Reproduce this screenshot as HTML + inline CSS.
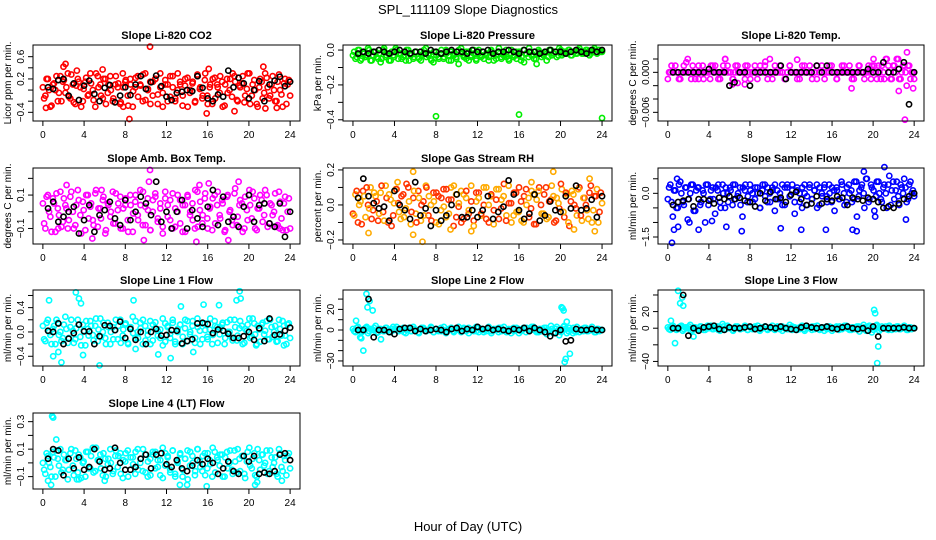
<!DOCTYPE html>
<html><head><meta charset="utf-8">
<style>
html,body{margin:0;padding:0;background:#fff;}
svg{display:block;font-family:"Liberation Sans",sans-serif;}
</style></head>
<body>
<svg id="chart" width="936" height="540" viewBox="0 0 936 540" xmlns="http://www.w3.org/2000/svg">
<text x="468" y="14" text-anchor="middle" font-size="13">SPL_111109  Slope Diagnostics</text>
<text x="468" y="531" text-anchor="middle" font-size="13">Hour of Day (UTC)</text>
<g id="panels"></g>
</svg>
<script>
// ---- data ----
const co2Values=[0.05,-0.1,0.2,-0.3,0.1,0.0,-0.2,0.25,0.15,-0.05,0.3,-0.15,0.1,-0.25,0.2,0.05,-0.2,0.15,-0.1,0.3,0.0,-0.3,0.25,0.1,-0.15,0.2,-0.05,0.25,-0.2,0.1,0.05,-0.25,0.3,0.15,-0.1,0.2,-0.3,0.05,0.25,0.1,-0.2,0.3,0.0,0.15,-0.1,0.2,-0.25,0.3,-0.05,0.1,-0.2,0.25,0.05,-0.15,0.3,0.1,-0.1,0.2,-0.3,0.0,0.15,-0.2,0.25,0.05,-0.1,0.3,-0.25,0.1,0.2,-0.15,0.05,0.25,-0.3,0.1,-0.05,0.2,0.3,0.15,-0.2,0.05,0.25,-0.1,0.3,-0.25,0.1,0.0,-0.3,0.2,-0.15,0.3,0.05,-0.1,0.25,-0.2,0.15,0.0,-0.3,0.2,0.1,-0.1];
const co2Values2=[-0.15,0.2,0.0,-0.28,0.12,0.25,-0.05,-0.2,0.18,0.05,-0.12,0.28,-0.22,0.08,0.15,-0.3,0.02,0.22,-0.08,0.12,-0.18,0.3,0.05,-0.1,0.2,-0.25,0.1,0.0,-0.15,0.25,0.12,-0.22,0.05,0.18,-0.28,0.1,-0.02,0.22,-0.12,0.08,0.28,-0.18,0.02,-0.25,0.15,0.2,-0.08,0.05,-0.3,0.18,0.1,-0.12,0.25,-0.2,0.0,0.15,-0.28,0.08,0.22,-0.05,0.12,-0.22,0.28,0.02,-0.15,0.18,-0.1,0.05,-0.25,0.22,0.1,-0.05,0.15,-0.28,0.2,0.0,-0.12,0.25,-0.18,0.08,0.12,-0.22,0.02,0.3,-0.1,0.18,-0.25,0.05,0.15,-0.05,0.22,-0.15,0.1,0.0,-0.2,0.28,-0.08,0.12,-0.25,0.18];
const co2ExtraHours=[0.3,2.0,2.2,3.3,10.4,8.4,15.9,16.1,18.6,21.4,21.6,22.7,5.8,7.8];
const co2ExtraValues=[-0.32,0.42,0.47,0.35,0.78,-0.52,-0.42,0.38,-0.38,0.42,-0.33,-0.32,0.37,-0.3];
const co2Means=[0.05,0.02,0.18,0.2,-0.1,0.12,-0.18,0.08,0.17,-0.07,-0.2,0.04,0.09,-0.22,-0.1,0.05,-0.09,0.1,0.25,0.02,0.14,0.26,0.07,-0.12,-0.18,-0.05,-0.03,0.0,-0.02,0.25,0.04,-0.15,-0.2,-0.08,-0.12,0.35,0.05,0.22,0.12,-0.15,0.0,0.16,-0.2,0.1,0.17,0.24,0.07,0.15];

const presValues=[-0.03,-0.05,0.0,-0.06,-0.02,-0.04,0.01,-0.06,-0.03,-0.01,-0.05,-0.07,0.0,-0.04,-0.02,-0.06,-0.03,0.01,-0.05,-0.02,-0.04,-0.06,0.0,-0.03,-0.05,-0.01,-0.04,-0.06,-0.02,0.01,-0.03,-0.05,-0.07,-0.01,-0.04,-0.02,-0.05,0.0,-0.03,-0.06,-0.02,-0.04,-0.08,0.01,-0.03,-0.05,-0.01,-0.04,-0.02,-0.06,0.0,-0.03,-0.05,-0.02,-0.04,-0.01,-0.06,-0.03,0.01,-0.05,-0.02,-0.04,-0.06,0.0,-0.03,-0.05,-0.01,-0.04,-0.07,-0.02,0.01,-0.03,-0.05,-0.08,-0.01,-0.04,-0.02,-0.06,0.0,-0.03,-0.02,-0.04,0.01,-0.03,-0.01,-0.02,0.0,-0.03,-0.01,-0.02,0.01,-0.02,-0.01,0.0,-0.03,-0.01,0.01,-0.02,0.0,-0.01];
const presValues2=[-0.01,-0.04,0.0,-0.05,-0.02,-0.03,0.0,-0.06,-0.01,-0.04,-0.02,-0.05,0.01,-0.03,-0.06,-0.01,-0.04,0.0,-0.02,-0.05,-0.03,0.0,-0.06,-0.02,-0.04,-0.01,-0.05,-0.03,0.0,-0.04,-0.02,-0.06,-0.01,-0.03,-0.05,0.0,-0.04,-0.02,-0.06,-0.01,-0.03,-0.05,0.0,-0.02,-0.04,-0.01,-0.06,-0.03,0.0,-0.05,-0.02,-0.04,-0.01,-0.03,-0.06,0.0,-0.02,-0.05,-0.01,-0.04,-0.03,0.0,-0.05,-0.02,-0.04,-0.01,-0.03,-0.06,0.0,-0.02,-0.04,-0.01,-0.03,-0.05,0.0,-0.02,-0.03,-0.01,-0.04,0.0,-0.02,-0.01,-0.03,0.0,-0.02,-0.01,0.0,-0.03,-0.01,-0.02,0.0,-0.01,-0.02,0.0,-0.01,-0.02,0.0,-0.01,0.0,-0.01];
const presExtraHours=[8,16,24];
const presExtraValues=[-0.38,-0.37,-0.39];
const presMeans=[-0.02,-0.01,-0.02,-0.01,0.0,-0.01,-0.02,-0.01,0.0,-0.01,-0.02,-0.01,-0.01,-0.02,0.0,-0.01,-0.02,-0.01,0.0,-0.01,-0.01,-0.02,0.0,-0.01,-0.01,0.0,-0.02,-0.01,-0.01,0.0,-0.01,-0.02,0.0,-0.01,-0.01,-0.02,-0.01,0.0,-0.01,-0.01,-0.02,-0.01,0.0,-0.01,-0.02,0.0,-0.01,0.0];

const tempValues=[-0.001,0,0,0.001,0,-0.001,0,0,0.002,0,0.001,-0.001,0,0,0.001,0,0,-0.001,0.001,0.001,0,-0.001,0,0.002,0.001,0,-0.001,0,0.001,0,0,-0.001,0.001,0,0,0.001,-0.001,0,0,0.001,0,0.002,-0.001,0,0,0.001,0,-0.001,0,0.001,0,0,-0.001,0,0.001,0,0,0.001,-0.001,0,0.001,0,0,-0.001,0,0.001,0,0,-0.001,0,0.001,0,0,0.001,-0.001,0,0,0.001,0,-0.001,0,0,0.001,0.001,-0.001,0,0.001,-0.001,0.002,0,-0.001,0.001,0.002,-0.001,0,0.001,-0.002,0.001,0,-0.001];
const tempValues2=[0,0.001,0,0,-0.001,0,0.001,0,0,-0.001,0,0,0.001,0,-0.001,0,0,0.001,0,0,-0.001,0,0.001,0,0,0,-0.001,0.001,0,0,0,0.001,0,-0.001,0,0,0,0.001,0,0,-0.001,0,0,0.001,0,0,0,-0.001,0,0.001,0,0,0,-0.001,0,0.001,0,0,0,0,-0.001,0,0.001,0,0,0,0.001,0,-0.001,0,0,0.001,0,0,0,-0.001,0,0.001,0,0,0,0.001,-0.001,0.002,0,0.001,-0.001,0,0.002,0.001,-0.001,0.001,0,0.002,-0.001,0.001,0,0.001,-0.001,0];
const tempExtraHours=[1.8,5.6,6.3,6.8,7.5,12.6,17.9,22.5,23.1,23.3,23.9,9.5,3.0];
const tempExtraValues=[0.0015,0.002,-0.0018,-0.0016,-0.0018,0.0019,-0.0024,-0.0028,-0.0071,0.003,-0.0024,0.0016,-0.001];
const tempMeans=[0,0,0,0,0,0,0,0.0005,0,0,0,-0.002,-0.0015,0,0,-0.002,0,0,0,0,0,0.001,-0.001,0,0,0,0,0,0.001,0,0.001,0,0,0,0,0,0,0,0.0005,0,0,0.0015,0,0,0.0005,0.0015,-0.0048,0];

const ambValues=[0.05,-0.1,0.1,-0.03,0.08,-0.12,0.02,0.12,-0.06,0.04,-0.1,0.09,0.0,-0.08,0.13,-0.02,0.06,-0.11,0.1,0.03,-0.05,0.11,-0.09,0.02,0.07,-0.13,0.05,-0.03,0.12,-0.07,0.01,0.09,-0.1,0.04,-0.05,0.1,-0.12,0.06,-0.02,0.13,-0.08,0.03,0.08,-0.11,0.0,0.11,-0.06,0.05,-0.09,0.12,-0.03,0.07,-0.1,0.02,0.1,-0.07,0.04,-0.12,0.09,0.0,-0.05,0.13,-0.09,0.06,-0.02,0.11,-0.1,0.03,0.08,-0.07,0.12,-0.04,0.05,-0.11,0.1,0.01,-0.08,0.14,-0.03,0.07,-0.12,0.09,-0.05,0.04,0.12,-0.1,0.02,0.1,-0.06,0.13,-0.09,0.05,-0.02,0.11,-0.08,0.06,-0.11,0.09,0.0,-0.1];
const ambValues2=[-0.07,0.09,0.0,-0.12,0.05,0.11,-0.02,-0.09,0.08,0.02,-0.05,0.12,-0.1,0.04,0.07,-0.13,0.01,0.1,-0.04,0.05,-0.08,0.13,0.02,-0.04,0.09,-0.11,0.04,0.0,-0.07,0.11,0.05,-0.1,0.02,0.08,-0.12,0.04,-0.01,0.1,-0.05,0.04,0.12,-0.08,0.01,-0.11,0.07,0.09,-0.04,0.02,-0.13,0.08,0.04,-0.05,0.11,-0.09,0.0,0.07,-0.12,0.04,0.1,-0.02,0.05,-0.1,0.12,0.01,-0.07,0.08,-0.04,0.02,-0.11,0.1,0.04,-0.02,0.07,-0.12,0.09,0.0,-0.05,0.11,-0.08,0.04,0.05,-0.1,0.01,0.13,-0.04,0.08,-0.11,0.02,0.07,-0.02,0.1,-0.07,0.04,0.0,-0.09,0.12,-0.04,0.05,-0.11,0.08];
const ambExtraHours=[10.4,10.3,4.8,9.8,14.9,18.0,23.0,19.0,15.2,1.5,2.3,5.7,16.1];
const ambExtraValues=[0.25,0.18,-0.16,-0.17,-0.18,-0.17,-0.1,0.18,0.16,-0.1,0.16,0.13,0.17];
const ambMeans=[0.02,0.06,-0.06,-0.03,0.0,0.03,-0.13,-0.05,0.04,-0.12,-0.02,0.01,0.06,-0.04,-0.08,0.07,-0.05,0.0,0.09,0.05,-0.02,0.18,-0.06,0.0,-0.1,0.0,0.07,-0.1,0.01,-0.04,-0.09,0.03,0.13,-0.08,0.09,-0.06,-0.03,-0.09,0.03,0.1,-0.06,0.04,0.05,-0.07,-0.09,0.05,-0.15,0.0];

const rhValues=[-0.05,0.06,-0.1,0.02,0.08,-0.07,0.0,0.1,-0.03,0.05,-0.09,0.07,-0.04,0.11,-0.1,0.03,-0.06,0.09,0.01,-0.08,0.06,-0.02,0.1,-0.11,0.04,-0.05,0.08,-0.09,0.02,0.11,-0.06,0.0,0.07,-0.1,0.05,-0.03,0.09,-0.07,0.03,0.1,-0.12,0.06,-0.01,0.08,-0.08,0.04,-0.05,0.11,-0.09,0.02,0.07,-0.06,0.0,0.1,-0.1,0.05,-0.03,0.09,-0.08,0.03,0.12,-0.06,0.01,-0.1,0.07,-0.04,0.1,-0.09,0.05,0.0,-0.07,0.08,-0.11,0.03,0.1,-0.05,0.06,-0.08,0.02,0.11,-0.1,0.04,-0.02,0.09,-0.07,0.06,-0.12,0.08,0.0,-0.06,0.1,-0.09,0.04,-0.03,0.07,-0.1,0.05,0.09,-0.04,0.01];
const rhValues2=[-0.06,0.08,0.0,-0.11,0.05,0.1,-0.02,-0.08,0.07,0.02,-0.05,0.11,-0.09,0.04,0.06,-0.12,0.01,0.09,-0.04,0.05,-0.07,0.12,0.02,-0.04,0.08,-0.1,0.04,0.0,-0.06,0.1,0.05,-0.09,0.02,0.07,-0.11,0.04,-0.01,0.09,-0.05,0.03,0.11,-0.07,0.01,-0.1,0.06,0.08,-0.03,0.02,-0.12,0.07,0.04,-0.05,0.1,-0.08,0.0,0.06,-0.11,0.03,0.09,-0.02,0.05,-0.09,0.11,0.01,-0.06,0.07,-0.04,0.02,-0.1,0.09,0.04,-0.02,0.06,-0.11,0.08,0.0,-0.05,0.1,-0.07,0.03,0.05,-0.09,0.01,0.12,-0.04,0.07,-0.1,0.02,0.06,-0.02,0.09,-0.06,0.04,0.0,-0.08,0.11,-0.03,0.05,-0.1,0.07];
const rhExtraHours=[5.8,6.7,1.5,5.8,9.4,11.4,19.3,21.3,22.8,23.3,4.3,17.2];
const rhExtraValues=[0.19,-0.21,-0.16,-0.17,-0.14,-0.15,0.19,-0.14,0.15,-0.15,0.13,0.13];
const rhMeans=[0.04,0.15,0.05,0.01,-0.02,-0.01,-0.09,0.08,0.0,-0.03,-0.08,0.13,-0.06,-0.02,-0.12,-0.03,-0.09,-0.06,0.0,0.06,-0.07,-0.07,-0.03,-0.07,-0.03,0.05,-0.08,-0.04,-0.01,0.14,0.06,-0.03,-0.08,-0.05,0.06,-0.09,-0.06,0.02,-0.03,-0.04,0.05,-0.02,0.11,-0.03,-0.02,0.03,-0.07,0.05];

const flowValues=[-0.2,0.3,-0.8,0.1,-0.5,0.4,-0.3,0.2,-0.9,0.0,0.3,-0.6,0.2,-0.4,0.1,-1.0,0.3,-0.2,0.2,-0.7,0.1,-0.3,0.3,-0.5,0.0,0.2,-0.4,0.3,-0.1,0.2,-0.8,0.1,-0.3,0.3,0.0,-0.2,0.2,-0.5,0.1,0.3,-0.3,0.0,0.2,-0.6,0.1,-0.2,0.3,-0.4,0.2,-0.1,0.3,-0.7,0.1,-0.3,0.2,0.0,-0.4,0.3,-0.2,0.1,-0.5,0.2,-0.1,0.3,-0.3,0.0,0.2,-0.6,0.1,-0.2,0.3,-0.4,0.2,0.0,-0.3,0.4,-0.8,0.1,0.3,-0.5,0.5,-0.2,0.2,-0.6,0.4,0.0,-0.3,0.3,-0.5,0.6,0.1,-0.2,0.4,-0.4,0.2,0.5,-0.3,0.3,0.0,-0.1];
const flowValues2=[0.2,-0.3,0.1,-0.5,0.3,0.0,-0.4,0.2,-0.2,0.3,-0.6,0.1,0.2,-0.3,0.0,0.3,-0.4,0.1,-0.2,0.2,0.3,-0.5,0.0,0.2,-0.3,0.1,0.3,-0.2,0.0,-0.4,0.2,0.3,-0.1,0.1,-0.3,0.2,0.0,-0.5,0.3,-0.1,0.2,-0.3,0.1,0.3,-0.2,0.0,-0.4,0.2,0.3,-0.1,0.1,-0.3,0.2,0.0,-0.5,0.3,-0.1,0.2,-0.2,0.1,0.3,-0.4,0.0,0.2,-0.1,0.3,-0.3,0.1,0.2,-0.2,0.4,0.0,-0.3,0.3,0.1,-0.2,0.4,-0.1,0.2,0.0,0.5,-0.3,0.3,0.1,-0.1,0.4,-0.2,0.2,0.0,0.3,-0.4,0.4,0.1,-0.1,0.3,0.0,0.2,-0.2,0.4,0.1];
const flowExtraHours=[0.4,0.6,1.0,2.1,3.0,5.7,7.2,11.0,13.0,15.4,18.0,18.4,19.1,21.1,20.2,23.2,0.9,4.3];
const flowExtraValues=[-1.7,-1.25,-1.15,-1.0,-1.25,-1.15,-1.3,-1.2,-1.25,-1.25,-1.25,-1.3,0.75,0.9,-0.8,-0.9,0.5,-0.95];
const flowMeans=[-0.4,-0.3,-0.25,-0.2,-0.45,-0.2,-0.2,-0.25,-0.35,-0.15,-0.2,-0.1,-0.2,-0.15,-0.25,-0.3,-0.45,0.0,-0.25,0.05,-0.2,-0.15,-0.3,-0.05,0.05,-0.2,-0.4,-0.35,-0.1,-0.35,-0.2,-0.25,-0.1,-0.15,-0.4,-0.15,-0.2,-0.25,-0.15,-0.2,-0.3,-0.5,-0.45,-0.5,-0.35,-0.2,-0.1,0.0];

const line1Values=[0.1,-0.15,0.2,-0.05,0.05,-0.2,0.15,0.0,-0.1,0.25,-0.18,0.08,0.02,-0.12,0.2,-0.08,0.12,-0.22,0.05,0.18,-0.05,0.1,-0.15,0.22,0.0,-0.1,0.15,-0.2,0.08,0.03,-0.12,0.2,-0.06,0.12,-0.18,0.05,0.25,-0.1,0.0,0.15,-0.2,0.1,-0.05,0.18,-0.14,0.06,0.02,-0.1,0.22,-0.16,0.1,-0.03,0.15,-0.2,0.05,0.12,-0.08,0.2,-0.15,0.0,0.18,-0.1,0.08,-0.2,0.14,0.03,-0.12,0.22,-0.05,0.1,-0.18,0.06,0.15,-0.1,0.0,0.2,-0.14,0.08,-0.06,0.18,-0.2,0.05,0.12,-0.1,0.22,-0.04,0.1,-0.16,0.15,0.02,-0.12,0.2,-0.08,0.1,-0.15,0.05,0.18,-0.06,0.12,-0.1];
const line1Values2=[-0.12,0.15,0.0,-0.2,0.1,0.2,-0.05,-0.15,0.12,0.05,-0.1,0.2,-0.18,0.06,0.12,-0.22,0.02,0.18,-0.06,0.1,-0.14,0.22,0.04,-0.08,0.15,-0.2,0.08,0.0,-0.12,0.2,0.1,-0.18,0.04,0.14,-0.2,0.08,-0.02,0.18,-0.1,0.06,0.2,-0.14,0.02,-0.2,0.12,0.16,-0.06,0.04,-0.22,0.14,0.08,-0.1,0.2,-0.16,0.0,0.12,-0.2,0.06,0.18,-0.04,0.1,-0.18,0.22,0.02,-0.12,0.14,-0.08,0.04,-0.2,0.18,0.08,-0.04,0.12,-0.2,0.16,0.0,-0.1,0.2,-0.14,0.06,0.1,-0.18,0.02,0.22,-0.08,0.14,-0.2,0.04,0.12,-0.04,0.18,-0.12,0.08,0.0,-0.16,0.2,-0.06,0.1,-0.2,0.14];
const line1ExtraHours=[0.6,1.0,1.8,3.2,3.5,3.7,3.9,5.5,8.8,11.2,12.4,13.4,14.6,15.6,17.1,18.8,19.1,19.2,20.7,23.4,9.0,1.5];
const line1ExtraValues=[0.52,-0.4,-0.5,0.65,0.55,0.47,-0.38,-0.55,0.52,-0.37,-0.43,0.42,-0.33,0.45,0.44,0.52,0.67,0.55,-0.22,-0.22,-0.28,-0.33];
const line1Means=[0.02,0.0,0.14,-0.2,-0.11,-0.02,0.12,0.01,0.01,-0.2,-0.07,0.11,0.1,0.03,0.17,-0.1,0.05,-0.13,0.0,-0.2,0.0,0.05,-0.06,-0.05,0.03,0.02,-0.19,-0.15,-0.12,0.14,0.15,0.13,-0.02,0.04,0.02,-0.03,-0.1,-0.1,-0.07,0.0,-0.13,0.06,-0.15,0.22,-0.05,-0.04,0.02,0.07];

const line2Values=[1,-2,3,0,-1,2,-3,1,0,4,-2,1,-1,2,0,-2,3,1,-1,0,2,-3,1,-1,3,0,-2,1,2,-1,0,3,-2,1,-1,2,0,-3,1,2,-1,0,3,-2,1,-1,2,0,-1,3,-2,1,0,-1,2,-3,1,0,2,-1,3,-2,0,1,-1,2,-3,0,1,2,-1,3,0,-2,1,-1,2,-4,0,1,-2,3,-5,1,4,-3,2,0,-1,3,-2,1,2,-1,0,3,-2,1,-1,0];
const line2Values2=[-1,2,0,-2,1,3,-1,0,2,-3,1,0,-1,2,-2,1,0,3,-1,1,-2,0,2,-1,1,0,-3,2,1,-1,0,2,-2,1,0,-1,3,-1,0,2,-2,1,0,-1,2,1,-3,0,1,-1,2,0,-2,1,3,-1,0,1,-2,2,0,-1,1,-3,2,0,1,-1,2,-2,0,1,3,-1,-2,1,0,2,-1,4,-3,1,0,-2,3,1,-1,0,2,-2,1,0,-1,2,-1,1,0,-2,1,0];
const line2ExtraHours=[0.3,0.8,1.0,1.3,1.4,1.6,1.9,0.7,2.7,20.1,20.2,20.3,20.4,20.5,20.6,20.9,21.2];
const line2ExtraValues=[9,-8,-20,35,22,28,19,-7,-9,22,21,19,-31,-28,8,-23,-3];
const line2Means=[0,0,30,-7,0,0,-2,-4,1,2,2,-1,1,-1,0,1,0,-2,1,2,-1,1,0,3,1,2,0,1,0,-1,1,0,2,-1,2,0,-2,-6,-3,0,-11,-10,1,0,0,1,0,0];

const line3Values=[1,-2,3,0,-1,2,-3,1,0,4,-2,1,-1,2,0,-2,3,1,-1,0,2,-3,5,-1,3,0,-2,1,2,-1,0,3,-2,1,-1,2,0,-3,1,2,-1,0,3,-2,1,-1,2,0,-1,4,-2,1,0,-1,2,-3,1,0,2,-1,3,-2,0,1,-1,2,-3,0,1,2,-1,3,0,-2,1,-1,2,-4,0,1,-2,3,-5,1,4,-3,2,0,-1,3,-2,1,2,-1,0,3,-2,1,-1,0];
const line3Values2=[-1,2,0,-2,1,3,-1,0,2,-3,1,0,-1,2,-2,1,0,3,-1,1,-2,0,2,-1,1,0,-3,2,1,-1,0,2,-2,1,0,-1,3,-1,0,2,-2,1,0,-1,2,1,-3,0,1,-1,2,0,-2,1,3,-1,0,1,-2,2,0,-1,1,-3,2,0,1,-1,2,-2,0,1,3,-1,-2,1,0,2,-1,4,-3,1,0,-2,3,1,-1,0,2,-2,1,0,-1,2,-1,1,0,-2,1,0];
const line3ExtraHours=[0.3,0.7,1.0,1.2,1.4,1.5,2.5,20.1,20.2,20.4,20.5];
const line3ExtraValues=[9,-18,45,30,37,27,-10,22,18,-42,-22];
const line3Means=[0,0,40,-9,0,-3,1,2,3,-1,-2,1,0,0,1,2,-1,0,2,1,0,2,0,-1,-2,1,3,1,0,1,2,0,-1,1,2,0,-1,0,-3,2,-10,0,0,0,0,1,0,0];

const line4Values=[0.0,-0.08,0.05,-0.03,0.08,-0.1,0.03,0.1,-0.05,0.02,-0.12,0.07,-0.02,0.09,-0.07,0.04,0.0,-0.1,0.08,-0.04,0.11,-0.06,0.02,0.06,-0.09,0.03,-0.01,0.1,-0.08,0.05,-0.03,0.07,-0.11,0.01,0.09,-0.05,0.04,-0.08,0.1,0.0,-0.06,0.06,-0.1,0.03,0.08,-0.04,0.02,-0.09,0.11,-0.02,0.05,-0.07,0.09,-0.1,0.01,0.07,-0.05,0.03,-0.12,0.08,0.0,-0.06,0.1,-0.03,0.05,-0.09,0.07,-0.01,0.11,-0.07,0.02,0.06,-0.1,0.04,-0.04,0.09,-0.08,0.01,0.1,-0.06,0.05,-0.11,0.08,-0.02,0.03,-0.09,0.1,-0.05,0.06,0.0,-0.08,0.09,-0.03,0.04,-0.1,0.07,-0.06,0.02,0.05,-0.04];
const line4Values2=[-0.05,0.07,0.0,-0.1,0.04,0.09,-0.02,-0.07,0.06,0.02,-0.05,0.1,-0.09,0.03,0.06,-0.11,0.01,0.08,-0.04,0.05,-0.07,0.11,0.02,-0.04,0.07,-0.1,0.03,0.0,-0.06,0.09,0.05,-0.08,0.02,0.07,-0.1,0.04,-0.01,0.08,-0.05,0.03,0.1,-0.07,0.01,-0.09,0.06,0.08,-0.03,0.02,-0.11,0.07,0.04,-0.05,0.09,-0.08,0.0,0.06,-0.1,0.03,0.09,-0.02,0.05,-0.09,0.1,0.01,-0.06,0.07,-0.04,0.02,-0.1,0.08,0.04,-0.02,0.06,-0.1,0.08,0.0,-0.05,0.09,-0.07,0.03,0.05,-0.08,0.01,0.11,-0.04,0.07,-0.1,0.02,0.06,-0.02,0.09,-0.06,0.04,0.0,-0.08,0.1,-0.03,0.05,-0.09,0.07];
const line4ExtraHours=[0.9,1.0,0.8,1.3,3.3,3.5,6.0,13.3,14.0,15.9,20.6,20.8,23.2,0.5];
const line4ExtraValues=[0.34,0.33,-0.16,0.17,-0.12,-0.12,-0.13,-0.16,-0.16,-0.17,-0.16,-0.14,-0.13,-0.13];
const line4Means=[0.03,0.1,0.09,-0.09,0.03,-0.04,0.04,-0.05,-0.03,0.1,0.01,-0.05,-0.04,0.11,0.0,-0.05,-0.05,-0.03,0.03,0.06,-0.04,0.06,0.07,-0.01,-0.03,0.02,-0.04,-0.06,-0.02,0.02,-0.01,0.03,0.0,-0.08,-0.04,0.01,-0.06,-0.08,0.05,0.01,0.05,-0.08,-0.07,-0.08,-0.06,0.06,0.07,0.02];

const hourTicks=[0,4,8,12,16,20,24];

// ---- layout ----
const NS="http://www.w3.org/2000/svg";
const cols=[[33,300],[343,612],[658,924]];
const rows=[45,168,290,413];
const H=76;
const panels=[
 {name:"co2",title:"Slope Li-820 CO2",ylab:"Licor ppm per min.",c:0,r:0,ymin:-0.556,ymax:0.81,ticks:[-0.4,-0.2,0,0.2,0.4,0.6],labels:[-0.4,0.2,0.6],fmt:1,col:"#ff0000",v:co2Values,v2:co2Values2,eh:co2ExtraHours,ev:co2ExtraValues,m:co2Means},
 {name:"pressure",title:"Slope Li-820 Pressure",ylab:"kPa per min.",c:1,r:0,ymin:-0.407,ymax:0.029,ticks:[-0.4,-0.3,-0.2,-0.1,0],labels:[-0.4,-0.2,0],fmt:1,col:"#00ee00",v:presValues,v2:presValues2,eh:presExtraHours,ev:presExtraValues,m:presMeans},
 {name:"li820-temp",title:"Slope Li-820 Temp.",ylab:"degrees C per min.",c:2,r:0,ymin:-0.0073,ymax:0.0041,ticks:[-0.006,-0.004,-0.002,0,0.002],labels:[-0.006,0],fmt:3,col:"#ff00ff",v:tempValues,v2:tempValues2,eh:tempExtraHours,ev:tempExtraValues,m:tempMeans},
 {name:"amb-box-temp",title:"Slope Amb. Box Temp.",ylab:"degrees C per min.",c:0,r:1,ymin:-0.193,ymax:0.262,ticks:[-0.1,0,0.1,0.2],labels:[-0.1,0.1],fmt:1,col:"#ff00ff",v:ambValues,v2:ambValues2,eh:ambExtraHours,ev:ambExtraValues,m:ambMeans},
 {name:"gas-stream-rh",title:"Slope Gas Stream RH",ylab:"percent per min.",c:1,r:1,ymin:-0.223,ymax:0.211,ticks:[-0.2,-0.1,0,0.1,0.2],labels:[-0.2,0,0.2],fmt:1,col:"#ffaa00",v:rhValues,v2:rhValues2,eh:rhExtraHours,ev:rhExtraValues,m:rhMeans},
 {name:"sample-flow",title:"Slope Sample Flow",ylab:"ml/min per min.",c:2,r:1,ymin:-1.74,ymax:0.87,ticks:[-1.5,-1,-0.5,0,0.5],labels:[-1.5,0],fmt:1,col:"#0000ff",v:flowValues,v2:flowValues2,eh:flowExtraHours,ev:flowExtraValues,m:flowMeans},
 {name:"line1-flow",title:"Slope Line 1 Flow",ylab:"ml/min per min.",c:0,r:2,ymin:-0.56,ymax:0.69,ticks:[-0.4,-0.2,0,0.2,0.4,0.6],labels:[-0.4,0,0.4],fmt:1,col:"#00ffff",v:line1Values,v2:line1Values2,eh:line1ExtraHours,ev:line1ExtraValues,m:line1Means},
 {name:"line2-flow",title:"Slope Line 2 Flow",ylab:"ml/min per min.",c:1,r:2,ymin:-34.9,ymax:38.8,ticks:[-30,-20,-10,0,10,20,30],labels:[-30,0,20],fmt:0,col:"#00ffff",v:line2Values,v2:line2Values2,eh:line2ExtraHours,ev:line2ExtraValues,m:line2Means},
 {name:"line3-flow",title:"Slope Line 3 Flow",ylab:"ml/min per min.",c:2,r:2,ymin:-45.5,ymax:46,ticks:[-40,-20,0,20,40],labels:[-40,0,20],fmt:0,col:"#00ffff",v:line3Values,v2:line3Values2,eh:line3ExtraHours,ev:line3ExtraValues,m:line3Means},
 {name:"line4-flow",title:"Slope Line 4 (LT) Flow",ylab:"ml/min per min.",c:0,r:3,ymin:-0.19,ymax:0.363,ticks:[-0.1,0,0.1,0.2,0.3],labels:[-0.1,0.1,0.3],fmt:1,col:"#00ffff",v:line4Values,v2:line4Values2,eh:line4ExtraHours,ev:line4ExtraValues,m:line4Means}
];

function mk(tag,attrs,parent){const e=document.createElementNS(NS,tag);for(const k in attrs)e.setAttribute(k,attrs[k]);if(parent)parent.appendChild(e);return e;}
function fmtNum(v,d){let s=v.toFixed(d);if(Math.abs(v)<1e-12)s=(0).toFixed(d);return s.replace("-","\u2212");}

const root=document.getElementById("panels");
panels.forEach(p=>{
  const L=cols[p.c][0],R=cols[p.c][1],T=rows[p.r],B=T+H;
  const xScale=h=>L+(R-L)*(0.037+0.926*h/24);
  const yScale=v=>B-(v-p.ymin)/(p.ymax-p.ymin)*H;
  const g=mk("g",{},root);
  
  
  const t=mk("text",{x:(L+R)/2,y:T-6,"text-anchor":"middle","font-size":"11","font-weight":"bold"},g);
  t.textContent=p.title;
  
  
  const pts=mk("g",{fill:"none","stroke-width":"1.6"},g);
  
  
  const n=p.v.length;
  p.v.forEach((v,i)=>{
    const c=mk("circle",{cx:xScale(i*24/(n-1)),cy:yScale(v),r:2.6,stroke:p.col},pts);
    
    
    if(p.name==="gas-stream-rh"&&i%2===0)c.setAttribute("stroke","#ff3300");
  });
  const n2=p.v2.length;
  p.v2.forEach((v,i)=>{
    const c=mk("circle",{cx:xScale((i+0.5)*24/n2),cy:yScale(v),r:2.6,stroke:p.col},pts);
    
    
    if(p.name==="gas-stream-rh"&&i%2===1)c.setAttribute("stroke","#ff3300");
  });
  p.eh.forEach((h,i)=>{
    const c=mk("circle",{cx:xScale(h),cy:yScale(p.ev[i]),r:2.6,stroke:p.col},pts);
    
    
  });
  p.m.forEach((v,i)=>{
    const c=mk("circle",{cx:xScale(0.5+i*0.5),cy:yScale(v),r:2.6,stroke:"#000"},pts);
    
    
  });
  const box=mk("rect",{x:L,y:T,width:R-L,height:H,fill:"none",stroke:"#000","stroke-width":"1"},g);
  
  
  const xa=mk("g",{},g);
  
  
  hourTicks.forEach(h=>{
    const x=xScale(h);
    mk("line",{x1:x,x2:x,y1:B,y2:B+5,stroke:"#000"},xa);
    const tl=mk("text",{x:x,y:B+17,"text-anchor":"middle","font-size":"10"},xa);
    tl.textContent=h;
    
    
  });
  const ya=mk("g",{},g);
  
  
  p.ticks.forEach(v=>{
    const y=yScale(v);
    mk("line",{x1:L-5,x2:L,y1:y,y2:y,stroke:"#000"},ya);
  });
  p.labels.forEach(v=>{
    const y=yScale(v);
    const tl=mk("text",{x:0,y:0,"text-anchor":"middle","font-size":"10",transform:`translate(${L-9},${y}) rotate(-90)`},ya);
    tl.textContent=fmtNum(v,p.fmt);
    
    
  });
  const yl=mk("text",{x:0,y:0,"text-anchor":"middle","font-size":"10",transform:`translate(${L-22},${(T+B)/2}) rotate(-90)`},g);
  yl.textContent=p.ylab;
  
  
});
</script>
</body></html>
